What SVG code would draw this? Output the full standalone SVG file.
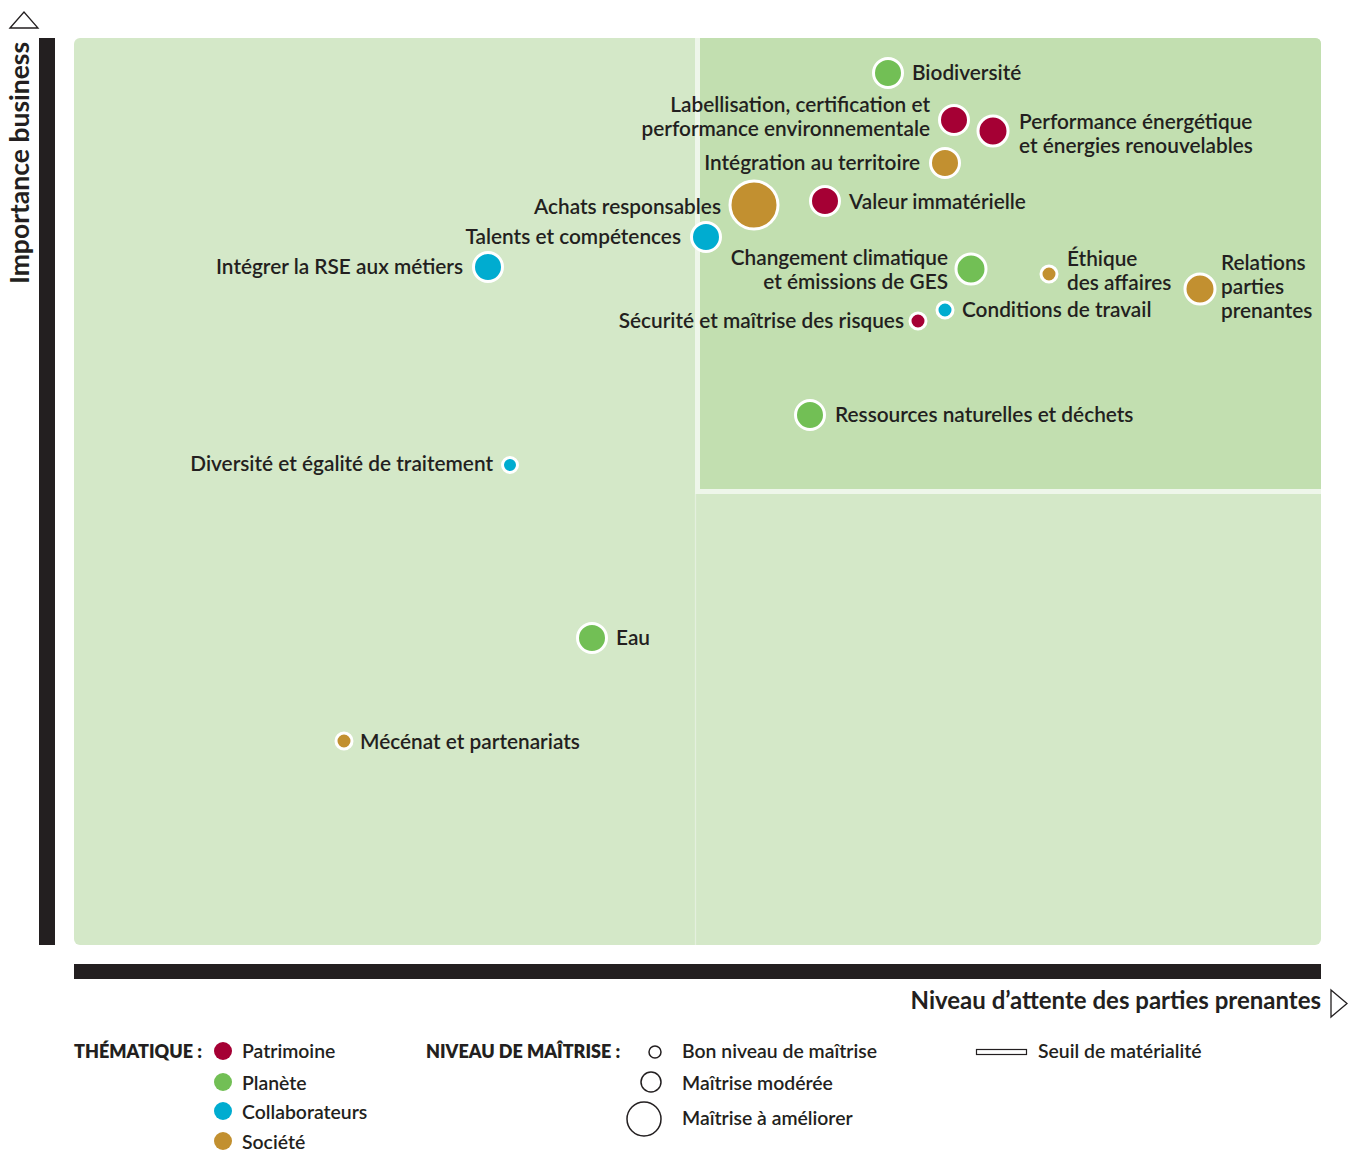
<svg xmlns="http://www.w3.org/2000/svg" width="1357" height="1151" viewBox="0 0 1357 1151">
  <style>
    text { font-family: "Lato", "Liberation Sans", sans-serif; fill: #231f20; }
    .lbl { font-size: 20.8px; font-weight: 600; }
    .end { text-anchor: end; }
    .axis { font-size: 24px; font-weight: 700; }
    .vaxis { font-size: 26.5px; font-weight: 700; }
    .leg { font-size: 19.4px; font-weight: 600; }
    .legh { font-size: 18px; font-weight: 800; }
    .pt { stroke: #ffffff; stroke-width: 3; }
    .pat { fill: #a50034; }
    .pla { fill: #72bf55; }
    .col { fill: #00acd0; }
    .soc { fill: #c29030; }
    .ring { fill: none; stroke: #231f20; stroke-width: 1.5; }
  </style>

  <rect width="1357" height="1151" fill="#ffffff"/>

  <!-- plot area -->
  <g id="plot">
    <rect x="74" y="38" width="1247" height="907" rx="6" fill="#d4e8c8"/>
    <path d="M700 38 H1315 Q1321 38 1321 44 V489 H700 Z" fill="#c2dfb0"/>
    <!-- materiality threshold -->
    <path d="M697.5 38 V491.5 H1321" fill="none" stroke="#eef6ea" stroke-width="5"/>
    <line x1="695.5" y1="494" x2="695.5" y2="945" stroke="#e4f0de" stroke-width="1.2"/>
  </g>

  <!-- axes -->
  <g id="axes">
    <rect x="39" y="38" width="16" height="907" fill="#231f20"/>
    <polygon points="10,28 24,12 38,28" fill="none" stroke="#231f20" stroke-width="1.3"/>
    <text class="vaxis" transform="translate(29,284) rotate(-90)">Importance business</text>
    <rect x="74" y="964" width="1247" height="15" fill="#231f20"/>
    <polygon points="1331,990 1347,1003.5 1331,1017" fill="none" stroke="#231f20" stroke-width="1.3"/>
    <text class="axis end" x="1321" y="1009">Niveau d’attente des parties prenantes</text>
  </g>

  <!-- topics -->
  <g id="biodiversite">
    <circle class="pt pla" cx="888" cy="73" r="14.5"/>
    <text class="lbl" x="912" y="80">Biodiversité</text>
  </g>
  <g id="labellisation">
    <circle class="pt pat" cx="954" cy="120" r="14.5"/>
    <text class="lbl end" x="930" y="112">Labellisation, certification et</text>
    <text class="lbl end" x="930" y="136">performance environnementale</text>
  </g>
  <g id="performance-energetique">
    <circle class="pt pat" cx="993" cy="131" r="15"/>
    <text class="lbl" x="1019" y="129">Performance énergétique</text>
    <text class="lbl" x="1019" y="153">et énergies renouvelables</text>
  </g>
  <g id="integration-territoire">
    <circle class="pt soc" cx="945" cy="163" r="14.5"/>
    <text class="lbl end" x="920" y="170">Intégration au territoire</text>
  </g>
  <g id="valeur-immaterielle">
    <circle class="pt pat" cx="825" cy="201" r="14.5"/>
    <text class="lbl" x="849" y="209">Valeur immatérielle</text>
  </g>
  <g id="achats-responsables">
    <circle class="pt soc" cx="754" cy="205" r="24"/>
    <text class="lbl end" x="721" y="214">Achats responsables</text>
  </g>
  <g id="talents">
    <circle class="pt col" cx="706" cy="237" r="14.5"/>
    <text class="lbl end" x="681" y="244">Talents et compétences</text>
  </g>
  <g id="rse-metiers">
    <circle class="pt col" cx="488" cy="267" r="14.5"/>
    <text class="lbl end" x="463" y="274">Intégrer la RSE aux métiers</text>
  </g>
  <g id="changement-climatique">
    <circle class="pt pla" cx="971" cy="269" r="15"/>
    <text class="lbl end" x="948" y="265">Changement climatique</text>
    <text class="lbl end" x="948" y="289">et émissions de GES</text>
  </g>
  <g id="ethique">
    <circle class="pt soc" cx="1049" cy="274" r="8"/>
    <text class="lbl" x="1067" y="266">Éthique</text>
    <text class="lbl" x="1067" y="290">des affaires</text>
  </g>
  <g id="relations-parties-prenantes">
    <circle class="pt soc" cx="1200" cy="289" r="15"/>
    <text class="lbl" x="1221" y="270">Relations</text>
    <text class="lbl" x="1221" y="294">parties</text>
    <text class="lbl" x="1221" y="318">prenantes</text>
  </g>
  <g id="conditions-travail">
    <circle class="pt col" cx="945" cy="310" r="8"/>
    <text class="lbl" x="962" y="317">Conditions de travail</text>
  </g>
  <g id="securite">
    <circle class="pt pat" cx="918" cy="321" r="8"/>
    <text class="lbl end" x="904" y="328">Sécurité et maîtrise des risques</text>
  </g>
  <g id="ressources">
    <circle class="pt pla" cx="810" cy="415" r="14.5"/>
    <text class="lbl" x="835" y="422">Ressources naturelles et déchets</text>
  </g>
  <g id="diversite">
    <circle class="pt col" cx="510" cy="465" r="7.5"/>
    <text class="lbl end" x="493" y="471">Diversité et égalité de traitement</text>
  </g>
  <g id="eau">
    <circle class="pt pla" cx="592" cy="638" r="14.5"/>
    <text class="lbl" x="616" y="645">Eau</text>
  </g>
  <g id="mecenat">
    <circle class="pt soc" cx="344" cy="741" r="8"/>
    <text class="lbl" x="360" y="749">Mécénat et partenariats</text>
  </g>

  <!-- legend -->
  <g id="legend-thematique">
    <text class="legh" x="74" y="1058">THÉMATIQUE :</text>
    <circle class="pat" cx="223" cy="1051" r="9"/>
    <text class="leg" x="242" y="1058">Patrimoine</text>
    <circle class="pla" cx="223" cy="1082" r="9"/>
    <text class="leg" x="242" y="1090">Planète</text>
    <circle class="col" cx="223" cy="1111" r="9"/>
    <text class="leg" x="242" y="1119">Collaborateurs</text>
    <circle class="soc" cx="223" cy="1141" r="9"/>
    <text class="leg" x="242" y="1149">Société</text>
  </g>
  <g id="legend-maitrise">
    <text class="legh" x="426" y="1058">NIVEAU DE MAÎTRISE :</text>
    <circle class="ring" cx="655" cy="1052" r="6"/>
    <text class="leg" x="682" y="1058">Bon niveau de maîtrise</text>
    <circle class="ring" cx="651" cy="1082" r="10"/>
    <text class="leg" x="682" y="1090">Maîtrise modérée</text>
    <circle class="ring" cx="644" cy="1119" r="17"/>
    <text class="leg" x="682" y="1125">Maîtrise à améliorer</text>
  </g>
  <g id="legend-seuil">
    <rect x="976.5" y="1049.5" width="50" height="5" fill="#ffffff" stroke="#231f20" stroke-width="1.2"/>
    <text class="leg" x="1038" y="1058">Seuil de matérialité</text>
  </g>
</svg>
